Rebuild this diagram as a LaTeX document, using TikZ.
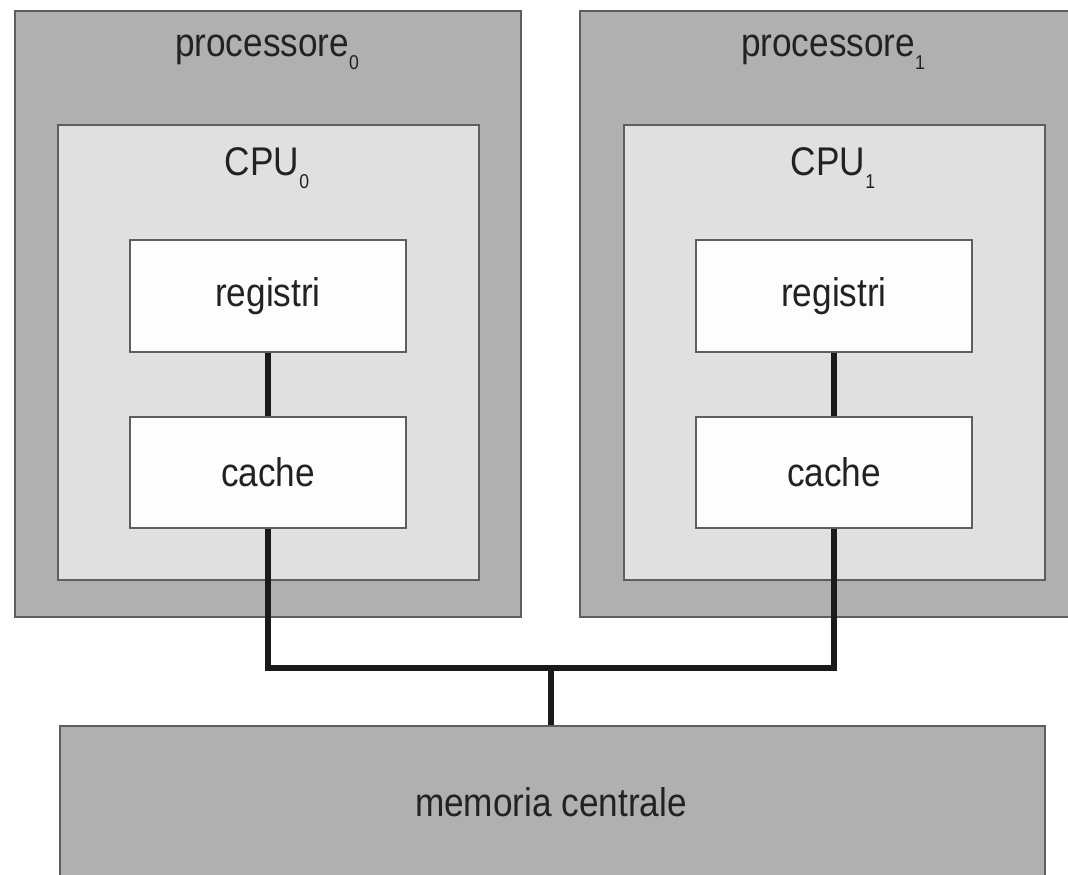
\documentclass[tikz,border=0pt]{standalone}
\usepackage{fontspec}
\setmainfont[FakeStretch=0.88]{Liberation Sans}
\newcommand\subidx[1]{\raisebox{-13pt}{\fontsize{20}{20}\selectfont #1}}
\definecolor{outergray}{HTML}{B0B0B0}
\definecolor{cpugray}{HTML}{E0E0E0}
\definecolor{regwhite}{HTML}{FDFDFD}
\definecolor{edgegray}{HTML}{5E5E5E}
\definecolor{wirecol}{HTML}{1A1A1A}
\definecolor{txtcol}{HTML}{222222}
\tikzset{
  boxbase/.style={draw=edgegray, line width=2pt, inner sep=0pt, anchor=north west, rectangle},
  outerbox/.style={boxbase, fill=outergray},
  cpubox/.style={boxbase, fill=cpugray},
  membox/.style={boxbase, fill=regwhite, font=\fontsize{40}{48}\selectfont, text=txtcol},
  lbl/.style={anchor=base, inner sep=0pt, font=\fontsize{40}{48}\selectfont, text=txtcol},
  wire/.style={draw=wirecol, line width=6pt}
}
\begin{document}
\begin{tikzpicture}[x=1pt, y=-1pt]
\useasboundingbox (0,0) rectangle (1068,875);
\clip (0,0) rectangle (1068,875);
\fill[white] (0,0) rectangle (1068,875);
% processors
\node[outerbox, minimum width=506pt, minimum height=606pt] (p0) at (14,10) {};
\node[outerbox, minimum width=508pt, minimum height=606pt] (p1) at (579,10) {};
\node[lbl] (p0l) at (267,57) {processore\subidx{0}};
\node[lbl] (p1l) at (833,57) {processore\subidx{1}};
% CPUs
\node[cpubox, minimum width=421pt, minimum height=455pt] (cpu0) at (57,124) {};
\node[cpubox, minimum width=421pt, minimum height=455pt] (cpu1) at (623,124) {};
\node[lbl] (cpu0l) at (267,175) {CPU\subidx{0}};
\node[lbl] (cpu1l) at (833,175) {CPU\subidx{1}};
% registers and caches
\node[membox, minimum width=276pt, minimum height=112pt] (r0) at (129,239) {registri};
\node[membox, minimum width=276pt, minimum height=112pt] (r1) at (695,239) {registri};
\node[membox, minimum width=276pt, minimum height=111pt] (c0) at (129,416) {cache};
\node[membox, minimum width=276pt, minimum height=111pt] (c1) at (695,416) {cache};
% main memory
\node[boxbase, fill=outergray, minimum width=985pt, minimum height=170pt] (mem) at (59,725) {};
\node[lbl] (meml) at (551,816) {memoria centrale};
% wires
\coordinate (j) at (551,668);
\draw[wire] (r0.south) -- (c0.north);
\draw[wire] (r1.south) -- (c1.north);
\draw[wire] (c0.south) |- (j) -| (c1.south);
\draw[wire] (j) -- (mem.north -| j);
\end{tikzpicture}
\end{document}
